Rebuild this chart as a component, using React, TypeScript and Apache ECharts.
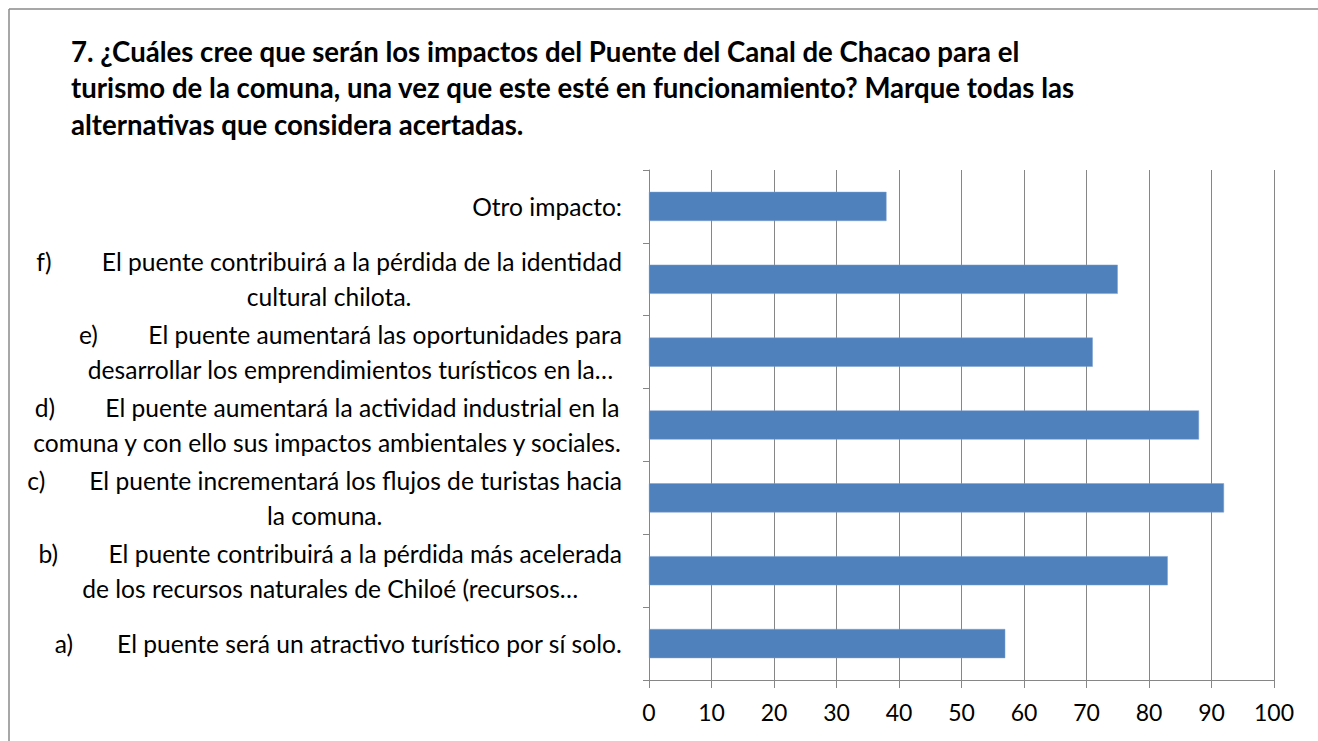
import React, { useEffect, useRef } from "react";
import * as echarts from "echarts";

const titleText =
  "7. ¿Cuáles cree que serán los impactos del Puente del Canal de Chacao para el\nturismo de la comuna, una vez que este esté en funcionamiento? Marque todas las\nalternativas que considera acertadas.";

const categories = [
  "a)       El puente será un atractivo turístico por sí solo.",
  "b)        El puente contribuirá a la pérdida más acelerada\nde los recursos naturales de Chiloé (recursos…",
  "c)       El puente incrementará los flujos de turistas hacia\nla comuna.",
  "d)        El puente aumentará la actividad industrial en la\ncomuna y con ello sus impactos ambientales y sociales.",
  "e)        El puente aumentará las oportunidades para\ndesarrollar los emprendimientos turísticos en la…",
  "f)        El puente contribuirá a la pérdida de la identidad\ncultural chilota.",
  "Otro impacto:",
];

const values = [57, 83, 92, 88, 71, 75, 38];

const xTicks = { min: 0, max: 100, interval: 10 };

const FONT = "Lato, 'Noto Sans', sans-serif";

export default function App() {
  const ref = useRef<HTMLDivElement>(null);

  useEffect(() => {
    document.body.style.margin = "0";
    if (!ref.current) return;
    const chart = echarts.init(ref.current, undefined, { renderer: "svg" });
    chart.setOption({
      animation: false,
      backgroundColor: "#ffffff",
      title: {
        text: titleText,
        left: 66,
        top: 28,
        textStyle: {
          fontFamily: FONT,
          fontSize: 27.6,
          fontWeight: "bold",
          color: "#000000",
          lineHeight: 36.5,
        },
      },
      graphic: [
        {
          type: "line",
          shape: { x1: 9, y1: 9, x2: 1318, y2: 9 },
          style: { stroke: "#8a8a8a", lineWidth: 1.5 },
        },
        {
          type: "line",
          shape: { x1: 9, y1: 9, x2: 9, y2: 741 },
          style: { stroke: "#8a8a8a", lineWidth: 1.5 },
        },
      ],
      grid: { left: 649, right: 44, top: 170, bottom: 61, containLabel: false },
      xAxis: {
        type: "value",
        min: xTicks.min,
        max: xTicks.max,
        interval: xTicks.interval,
        axisLine: { show: true, lineStyle: { color: "#868686", width: 1 } },
        axisTick: { show: true, length: 8, lineStyle: { color: "#868686" } },
        splitLine: { show: true, lineStyle: { color: "#868686", width: 1 } },
        axisLabel: {
          fontFamily: FONT,
          fontSize: 23,
          color: "#000000",
          margin: 20,
        },
      },
      yAxis: {
        type: "category",
        data: categories,
        axisLine: { show: true, lineStyle: { color: "#868686", width: 1 } },
        axisTick: { show: true, length: 6, lineStyle: { color: "#868686" } },
        axisLabel: {
          margin: 27,
          formatter: (v: string) =>
            v
              .split("\n")
              .map((l) => "{c|" + l + "}")
              .join("\n"),
          rich: {
            c: {
              fontFamily: FONT,
              fontSize: 24.6,
              color: "#000000",
              align: "center",
              lineHeight: 35,
            },
          },
        },
      },
      series: [
        {
          type: "bar",
          data: values,
          barWidth: "40%",
          itemStyle: {
            color: "#4F81BD",
            borderColor: "#7a9fd0",
            borderWidth: 0.5,
          },
        },
      ],
    });
    return () => chart.dispose();
  }, []);

  return <div ref={ref} style={{ width: 1318, height: 741 }} />;
}
